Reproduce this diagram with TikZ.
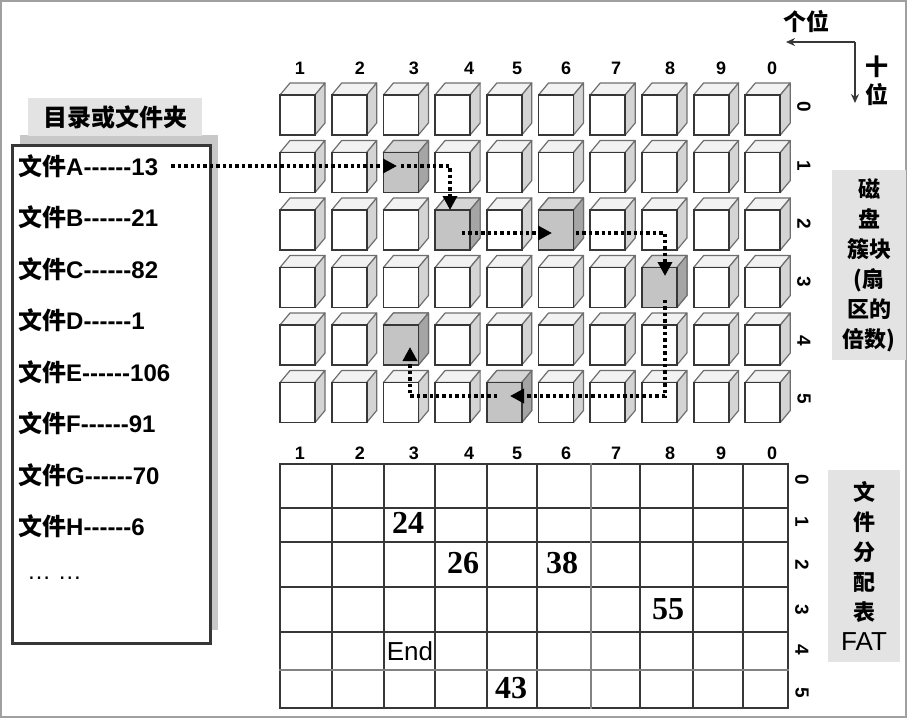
\documentclass[tikz,border=0pt]{standalone}
\usepackage{fontspec}
\setmainfont{Liberation Sans}
\newfontfamily\cjk{Noto Sans CJK SC}
\newfontfamily\serifnum{Liberation Serif}
\usepackage{xcolor}
\definecolor{framegray}{RGB}{160,160,160}
\definecolor{edgegray}{RGB}{55,55,55}
\definecolor{lightline}{RGB}{130,130,130}
\definecolor{shadegray}{RGB}{110,110,110}
\definecolor{shadowgray}{RGB}{200,200,200}
\definecolor{tabgray}{RGB}{227,227,227}
\definecolor{topwhite}{RGB}{242,242,242}
\definecolor{sidewhite}{RGB}{212,212,212}
\definecolor{usedfront}{RGB}{196,196,196}
\definecolor{usedtop}{RGB}{214,214,214}
\definecolor{usedside}{RGB}{165,165,165}
\usetikzlibrary{arrows.meta}

\newcommand{\dashrun}{-{}-{}-{}-{}-{}-}
% one disk cluster: column, row, front, top, side
\newcommand{\diskcube}[5]{%
  \pgfmathsetmacro\cx{280+51.7*#1}
  \pgfmathsetmacro\cy{95+57.5*#2}
  \begin{scope}[shift={(\cx,\cy)}]
    \filldraw[cubeshade,fill=#4] (0,0) -- (10,-12) -- (45,-12) -- (35,0) -- cycle;
    \filldraw[cubeshade,fill=#5] (35,0) -- (45,-12) -- (45,28) -- (35,40) -- cycle;
    \filldraw[cubefront,fill=#3] (0,0) rectangle (35,40);
  \end{scope}}

\tikzset{
  cubefront/.style={draw=edgegray, line width=1.8pt},
  cubeshade/.style={draw=shadegray, line width=1.2pt, line join=round},
  trail/.style={line width=3.4pt, dash pattern=on 3.4pt off 3pt,
    -{Triangle[length=14pt,width=14pt]}},
  axisline/.style={edgegray, line width=2pt, -{Stealth[length=9pt,width=8pt]}},
  fatline/.style={edgegray, line width=2.4pt, line cap=rect},
  tabbox/.style={fill=tabgray, minimum width=174pt, minimum height=38pt,
    font=\cjk\bfseries\fontsize{24}{24}\selectfont},
  sidebox/.style={fill=tabgray, align=center, inner sep=0pt,
    font=\cjk\bfseries\fontsize{22}{30}\selectfont},
  fileentry/.style={anchor=west, inner sep=1pt, font=\bfseries\fontsize{24}{24}\selectfont},
  collabel/.style={font=\bfseries\fontsize{18}{18}\selectfont},
  rowlabel/.style={rotate=-90, font=\bfseries\fontsize{19}{19}\selectfont},
  cornerlabel/.style={font=\cjk\bfseries\fontsize{23}{23}\selectfont},
  fatnum/.style={font=\serifnum\bfseries\fontsize{32}{32}\selectfont},
  fatend/.style={font=\fontsize{26}{26}\selectfont}
}

\begin{document}
\begin{tikzpicture}[x=1pt,y=-1pt]
\useasboundingbox (0,0) rectangle (921,724);
\draw[framegray, line width=2pt] (1,1) rectangle (906,717);

% directory of files
\fill[shadowgray] (20,135) rectangle (218,630);
\draw[edgegray, line width=3pt, fill=white] (12,145) rectangle (210,643);
\node[tabbox] (dirtab) at (115,117) {目录或文件夹};
\foreach \fl/\cl [count=\k from 0] in {A/13,B/21,C/82,D/1,E/106,F/91,G/70,H/6}
  \node[fileentry] (f\fl) at (17,166+51.5*\k) {{\cjk 文件}\fl\dashrun\cl};
\node[fileentry, font=\fontsize{24}{24}\selectfont] (fmore) at (26,578) {… …};

% disk clusters
\foreach \c in {0,...,9}
  \foreach \r in {0,...,5}
    \diskcube{\c}{\r}{white}{topwhite}{sidewhite};
\foreach \c/\r in {2/1,3/2,5/2,7/3,4/5,2/4}
  \diskcube{\c}{\r}{usedfront}{usedtop}{usedside};

% column and row numbers
\foreach \d/\x in {1/300,2/360,3/414,4/469,5/517,6/566,7/616,8/670,9/721,0/772} {
  \node[collabel] (top\d) at (\x,68) {\d};
  \node[collabel] (fat\d) at (\x,453) {\d};
}
\foreach \r in {0,...,5}
  \node[rowlabel] (row\r) at (804,107+58.4*\r) {\r};
\foreach \r/\y in {0/480,1/522,2/565,3/610,4/650,5/693}
  \node[rowlabel] (frow\r) at (802,\y) {\r};

% chain of file A
\coordinate (k13) at (401,166);
\coordinate (k24) at (450,233);
\coordinate (k26) at (556,233);
\coordinate (k38) at (665,290);
\coordinate (k55) at (510,396);
\coordinate (k43) at (410,347);
\draw[trail, shorten >=4pt] ([xshift=12pt]fA.east) -- (k13);
\draw[trail, shorten >=23pt] (k13) -| (k24);
\draw[trail, shorten <=12pt, shorten >=4pt] (k24) -- (k26);
\draw[trail, shorten <=20pt, shorten >=14pt] (k26) -| (k38);
\draw[trail, shorten <=10pt] (k38) |- (k55);
\draw[trail, shorten <=13pt] (k55) -| (k43);

% file allocation table
\foreach \x in {280,332,384,435,487,537,640,693,743,788}
  \draw[fatline] (\x,464) -- (\x,708);
\foreach \y in {464,508,542,587,632,708}
  \draw[fatline] (280,\y) -- (788,\y);
\draw[fatline, lightline] (280,670) -- (788,670);
\draw[fatline, lightline] (591,464) -- (591,708);
\node[fatnum] (n24) at (408,523) {24};
\node[fatnum] (n26) at (463,563) {26};
\node[fatnum] (n38) at (562,563) {38};
\node[fatnum] (n55) at (668,609) {55};
\node[fatend] (nend) at (410,651) {End};
\node[fatnum] (n43) at (511,688) {43};

% side captions
\node[sidebox, minimum width=74pt, minimum height=190pt] (disklabel) at (869,265)
  {磁\\盘\\簇块\\(扇\\区的\\倍数)};
\node[sidebox, minimum width=72pt, minimum height=192pt] (fatlabel) at (864,566)
  {文\\件\\分\\配\\表\\{\normalfont\fontsize{26}{30}\selectfont FAT}};

% digit order
\node[cornerlabel] (ones) at (806,22) {个位};
\node[cornerlabel] (tensa) at (877,67) {十};
\node[cornerlabel] (tensb) at (877,95) {位};
\coordinate (axis) at (855,42);
\coordinate (onesend) at (786,42);
\coordinate (tensend) at (855,103);
\draw[axisline] (axis) -- (onesend);
\draw[axisline] (axis) -- (tensend);
\end{tikzpicture}
\end{document}
